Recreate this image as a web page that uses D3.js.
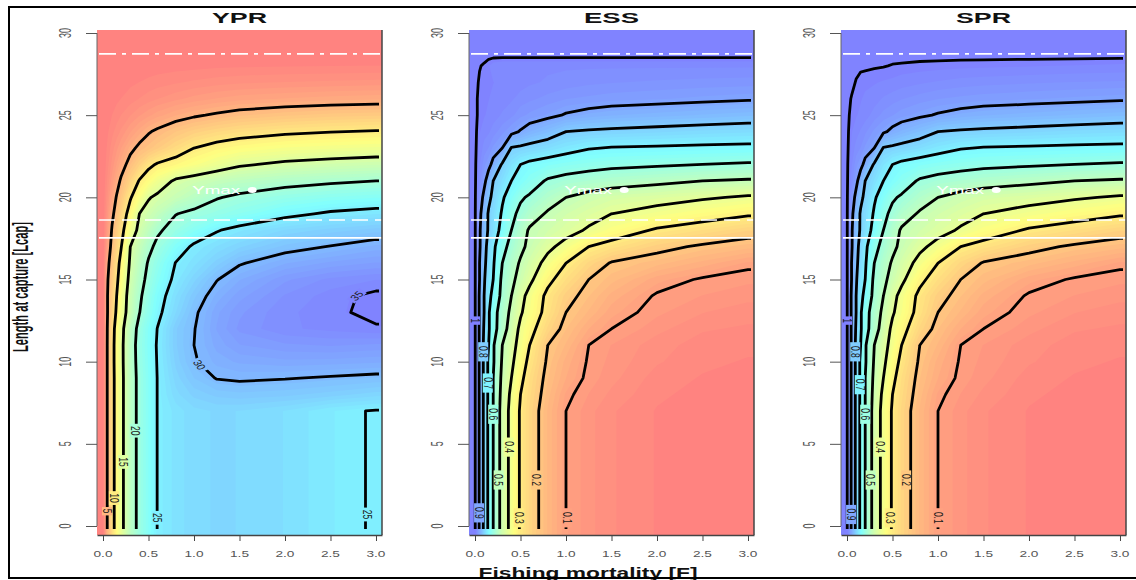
<!DOCTYPE html>
<html>
<head>
<meta charset="utf-8">
<script src="https://cdn.jsdelivr.net/npm/d3@7"></script>
<style>
  body { margin: 0; background: #fff; }
  svg { display: block; }
  text { font-family: Arial, "Liberation Sans", sans-serif; }
</style>
</head>
<body>
<svg id="chart" width="1136" height="580"></svg>
<script>
// grid: columns = fishing mortality, rows = length at capture
const fVals = [0, 0.05, 0.1, 0.15, 0.2, 0.3, 0.4, 0.5, 0.6, 0.8, 1.0, 1.25, 1.5, 2.0, 2.5, 3.0];
const lVals = [0, 7, 8, 9, 10, 11, 12, 13, 14, 15, 16, 17, 18, 19, 20, 21, 22, 23, 24, 25, 26, 27, 28, 28.6, 30];

const yprGrid = [
  [0, 5.4, 8.7, 11.5, 14, 18.1, 21, 23.1, 25.1, 26.3, 27, 27.3, 27.2, 26.6, 25.5, 24.85],
  [0, 5.4, 8.7, 11.5, 14, 18.1, 21, 23.1, 25.1, 26.3, 27, 27.3, 27.2, 26.6, 25.5, 24.85],
  [0, 5.4, 8.7, 11.5, 14, 18.1, 21, 23.1, 25.1, 27, 28, 28.6, 28.8, 28.6, 28.1, 27.5],
  [0, 5.4, 8.7, 11.5, 14, 18.1, 21, 23.1, 25.1, 27.5, 29, 30.1, 30.3, 30.1, 29.8, 29.5],
  [0, 5.4, 8.8, 11.6, 14.1, 18.2, 21.2, 23.2, 25.2, 28, 29.8, 31, 31.5, 31.8, 31.7, 31.5],
  [0, 5.4, 8.8, 11.6, 14.1, 18.3, 21.3, 23.3, 25.3, 28.3, 30, 31.6, 32.5, 33, 33.2, 33],
  [0, 5.3, 8.6, 11.4, 13.9, 18, 21, 23.2, 25.1, 28.3, 29.9, 32, 33.3, 34.2, 34.5, 34.8],
  [0, 5, 7.8, 10.5, 13, 16.8, 19.9, 22.2, 24.3, 27.2, 29.6, 31.8, 33, 34.2, 34.6, 35.5],
  [0, 5, 7.5, 10, 12.6, 16.6, 19.4, 21.7, 23.75, 26.6, 28.8, 31, 32.3, 33.8, 34.6, 35.3],
  [0, 4.8, 7.1, 9.3, 11.8, 16.05, 18.7, 20.9, 22.8, 25.7, 27.6, 29.9, 31.3, 33, 33.9, 34.3],
  [0, 4.2, 6.7, 8.75, 11, 15.5, 18, 20.3, 22, 25.1, 26.4, 28.1, 29.8, 31.3, 32.1, 32.6],
  [0, 3.3, 5.9, 7.9, 9.9, 15, 17.1, 19.2, 20.8, 23.4, 25.5, 26.7, 27.7, 29.2, 30.1, 31],
  [0, 2.7, 5.3, 7.1, 8.9, 12.9, 15.9, 17.7, 19.5, 21.3, 22.9, 24.8, 25.9, 27.3, 28.1, 28.7],
  [0, 2.2, 4.4, 6.2, 7.9, 11.4, 15, 16.2, 17.4, 19.9, 20.7, 21.6, 22.5, 24.3, 25.4, 26],
  [0, 1.8, 3.5, 5.2, 6.7, 9.7, 12.25, 14.75, 15.6, 16.9, 18.2, 19.8, 20.6, 21.7, 22.5, 23],
  [0, 1.35, 2.7, 4.05, 5.4, 7.8, 10.2, 11.7, 13.2, 15.5, 16.3, 17.2, 17.9, 18.9, 19.5, 20],
  [0, 1, 2, 3, 4, 5.9, 7.6, 9.3, 10.3, 11.2, 12.2, 13.5, 14.6, 15.6, 16.1, 16.5],
  [0, 0.75, 1.5, 2.2, 2.95, 4.4, 5.5, 6.2, 7, 8.5, 10, 11, 11.7, 12.5, 12.9, 13.2],
  [0, 0.5, 1, 1.45, 1.9, 2.9, 3.85, 4.8, 5.4, 6.5, 7.4, 8.2, 8.8, 9.5, 9.9, 10.2],
  [0, 0.3, 0.6, 0.9, 1.2, 1.75, 2.3, 2.8, 3.3, 4.1, 4.7, 5.3, 5.8, 6.4, 6.8, 7],
  [0, 0.15, 0.3, 0.45, 0.6, 0.9, 1.2, 1.5, 1.75, 2.2, 2.6, 3, 3.3, 3.6, 3.85, 4],
  [0, 0.08, 0.15, 0.22, 0.3, 0.45, 0.6, 0.75, 0.9, 1.1, 1.3, 1.5, 1.65, 1.8, 1.9, 2],
  [0, 0.02, 0.05, 0.07, 0.1, 0.14, 0.18, 0.22, 0.26, 0.32, 0.38, 0.45, 0.5, 0.55, 0.58, 0.6],
  [0, 0, 0, 0, 0, 0, 0, 0, 0, 0, 0, 0, 0, 0, 0, 0],
  [0, 0, 0, 0, 0, 0, 0, 0, 0, 0, 0, 0, 0, 0, 0, 0]
];

const essGrid = [
  [1, 0.89, 0.78, 0.68, 0.60, 0.46, 0.37, 0.29, 0.24, 0.16, 0.10, 0.07, 0.05, 0.03, 0.02, 0.015],
  [1, 0.89, 0.78, 0.68, 0.60, 0.46, 0.37, 0.29, 0.24, 0.16, 0.10, 0.07, 0.05, 0.03, 0.02, 0.015],
  [1, 0.89, 0.78, 0.68, 0.60, 0.47, 0.38, 0.30, 0.25, 0.17, 0.11, 0.08, 0.06, 0.035, 0.025, 0.02],
  [1, 0.89, 0.78, 0.68, 0.60, 0.48, 0.40, 0.32, 0.26, 0.18, 0.13, 0.09, 0.07, 0.04, 0.03, 0.025],
  [1, 0.89, 0.78, 0.68, 0.61, 0.49, 0.42, 0.34, 0.28, 0.19, 0.14, 0.095, 0.075, 0.05, 0.035, 0.03],
  [1, 0.89, 0.78, 0.70, 0.61, 0.50, 0.43, 0.37, 0.30, 0.20, 0.16, 0.10, 0.08, 0.055, 0.04, 0.035],
  [1, 0.89, 0.79, 0.71, 0.64, 0.54, 0.46, 0.38, 0.33, 0.24, 0.18, 0.13, 0.10, 0.07, 0.05, 0.045],
  [1, 0.89, 0.80, 0.71, 0.64, 0.55, 0.48, 0.41, 0.36, 0.27, 0.20, 0.16, 0.12, 0.085, 0.065, 0.055],
  [1, 0.89, 0.80, 0.72, 0.68, 0.57, 0.50, 0.43, 0.37, 0.28, 0.22, 0.18, 0.14, 0.095, 0.08, 0.07],
  [1, 0.90, 0.81, 0.74, 0.70, 0.58, 0.52, 0.47, 0.42, 0.32, 0.26, 0.20, 0.17, 0.12, 0.095, 0.085],
  [1, 0.90, 0.82, 0.76, 0.71, 0.60, 0.54, 0.49, 0.45, 0.37, 0.30, 0.24, 0.195, 0.17, 0.14, 0.11],
  [1, 0.91, 0.83, 0.77, 0.72, 0.63, 0.57, 0.52, 0.48, 0.42, 0.37, 0.30, 0.27, 0.22, 0.19, 0.17],
  [1, 0.91, 0.84, 0.79, 0.75, 0.67, 0.60, 0.54, 0.49, 0.46, 0.43, 0.39, 0.35, 0.29, 0.26, 0.23],
  [1, 0.92, 0.85, 0.79, 0.76, 0.69, 0.62, 0.58, 0.54, 0.49, 0.46, 0.43, 0.40, 0.37, 0.34, 0.31],
  [1, 0.94, 0.88, 0.82, 0.78, 0.71, 0.66, 0.61, 0.59, 0.54, 0.50, 0.47, 0.45, 0.43, 0.41, 0.39],
  [1, 0.96, 0.92, 0.86, 0.80, 0.75, 0.70, 0.67, 0.64, 0.59, 0.57, 0.555, 0.54, 0.52, 0.50, 0.49],
  [1, 0.97, 0.94, 0.92, 0.88, 0.79, 0.74, 0.70, 0.68, 0.66, 0.645, 0.63, 0.62, 0.61, 0.60, 0.59],
  [1, 0.98, 0.96, 0.95, 0.93, 0.90, 0.795, 0.785, 0.775, 0.755, 0.73, 0.705, 0.695, 0.69, 0.685, 0.68],
  [1, 0.985, 0.975, 0.97, 0.96, 0.94, 0.92, 0.895, 0.87, 0.84, 0.80, 0.79, 0.785, 0.775, 0.765, 0.758],
  [1, 0.99, 0.985, 0.98, 0.975, 0.965, 0.955, 0.94, 0.93, 0.915, 0.895, 0.88, 0.87, 0.86, 0.85, 0.84],
  [1, 0.99, 0.987, 0.984, 0.98, 0.975, 0.97, 0.96, 0.955, 0.945, 0.935, 0.93, 0.925, 0.92, 0.913, 0.907],
  [1, 0.993, 0.99, 0.987, 0.984, 0.98, 0.977, 0.975, 0.97, 0.965, 0.96, 0.955, 0.952, 0.948, 0.945, 0.943],
  [1, 0.996, 0.993, 0.985, 0.975, 0.97, 0.97, 0.97, 0.97, 0.97, 0.97, 0.97, 0.97, 0.97, 0.97, 0.97],
  [1, 1, 1, 1, 1, 1, 1, 1, 1, 1, 1, 1, 1, 1, 1, 1],
  [1, 1, 1, 1, 1, 1, 1, 1, 1, 1, 1, 1, 1, 1, 1, 1]
];

const sprGrid = [
  [1, 0.89, 0.78, 0.68, 0.60, 0.46, 0.37, 0.29, 0.24, 0.16, 0.10, 0.07, 0.05, 0.03, 0.02, 0.015],
  [1, 0.89, 0.78, 0.68, 0.60, 0.46, 0.37, 0.29, 0.24, 0.16, 0.10, 0.07, 0.05, 0.03, 0.02, 0.015],
  [1, 0.89, 0.78, 0.68, 0.60, 0.47, 0.38, 0.30, 0.25, 0.17, 0.11, 0.08, 0.06, 0.035, 0.025, 0.02],
  [1, 0.89, 0.78, 0.68, 0.60, 0.48, 0.40, 0.32, 0.26, 0.18, 0.13, 0.09, 0.07, 0.04, 0.03, 0.025],
  [1, 0.89, 0.78, 0.68, 0.61, 0.49, 0.42, 0.34, 0.28, 0.19, 0.14, 0.095, 0.075, 0.05, 0.035, 0.03],
  [1, 0.89, 0.78, 0.70, 0.61, 0.50, 0.43, 0.37, 0.30, 0.20, 0.16, 0.10, 0.08, 0.055, 0.04, 0.035],
  [1, 0.89, 0.79, 0.71, 0.64, 0.54, 0.46, 0.38, 0.33, 0.24, 0.18, 0.13, 0.10, 0.07, 0.05, 0.045],
  [1, 0.89, 0.80, 0.71, 0.64, 0.55, 0.48, 0.41, 0.36, 0.27, 0.20, 0.16, 0.12, 0.085, 0.065, 0.055],
  [1, 0.89, 0.80, 0.72, 0.68, 0.57, 0.50, 0.43, 0.37, 0.28, 0.22, 0.18, 0.14, 0.095, 0.08, 0.07],
  [1, 0.90, 0.81, 0.74, 0.70, 0.58, 0.52, 0.47, 0.42, 0.32, 0.26, 0.20, 0.17, 0.12, 0.095, 0.085],
  [1, 0.90, 0.82, 0.76, 0.71, 0.60, 0.54, 0.49, 0.45, 0.37, 0.30, 0.24, 0.195, 0.17, 0.14, 0.11],
  [1, 0.91, 0.83, 0.77, 0.72, 0.63, 0.57, 0.52, 0.48, 0.42, 0.37, 0.30, 0.27, 0.22, 0.19, 0.17],
  [1, 0.91, 0.84, 0.79, 0.75, 0.67, 0.60, 0.54, 0.49, 0.46, 0.43, 0.39, 0.35, 0.29, 0.26, 0.23],
  [1, 0.92, 0.85, 0.79, 0.76, 0.69, 0.62, 0.58, 0.54, 0.49, 0.46, 0.43, 0.40, 0.37, 0.34, 0.31],
  [1, 0.94, 0.88, 0.82, 0.78, 0.71, 0.66, 0.61, 0.59, 0.54, 0.50, 0.47, 0.45, 0.43, 0.41, 0.39],
  [1, 0.96, 0.92, 0.86, 0.80, 0.75, 0.70, 0.67, 0.64, 0.59, 0.57, 0.555, 0.54, 0.52, 0.50, 0.49],
  [1, 0.97, 0.94, 0.92, 0.88, 0.79, 0.74, 0.70, 0.68, 0.66, 0.645, 0.63, 0.62, 0.61, 0.60, 0.59],
  [1, 0.98, 0.96, 0.95, 0.93, 0.90, 0.795, 0.785, 0.775, 0.755, 0.73, 0.705, 0.695, 0.69, 0.685, 0.68],
  [1, 0.985, 0.975, 0.965, 0.955, 0.93, 0.91, 0.885, 0.865, 0.835, 0.80, 0.79, 0.785, 0.775, 0.765, 0.758],
  [1, 0.99, 0.985, 0.98, 0.975, 0.96, 0.945, 0.935, 0.925, 0.91, 0.895, 0.88, 0.87, 0.86, 0.85, 0.84],
  [1, 0.994, 0.99, 0.985, 0.98, 0.975, 0.965, 0.958, 0.952, 0.943, 0.935, 0.93, 0.925, 0.92, 0.914, 0.908],
  [1, 0.999, 0.994, 0.99, 0.988, 0.985, 0.982, 0.98, 0.975, 0.97, 0.965, 0.96, 0.957, 0.953, 0.95, 0.948],
  [1, 1, 0.999, 0.998, 0.998, 0.997, 0.996, 0.994, 0.993, 0.991, 0.99, 0.988, 0.987, 0.985, 0.9825, 0.98],
  [1, 1, 1, 1, 1, 1, 1, 1, 1, 1, 1, 1, 1, 1, 1, 1],
  [1, 1, 1, 1, 1, 1, 1, 1, 1, 1, 1, 1, 1, 1, 1, 1]
];

const yprLevels = [5, 10, 15, 20, 25, 30, 35];
// the top ratio contour is traced just under 1, where the ratio saturates
const ratioLevels = [0.1, 0.2, 0.3, 0.4, 0.5, 0.6, 0.7, 0.8, 0.9, 0.995];

// contour labels: [F, Lcap, text, angle]
const yprLabels = [[0.044, 0.9, "5", 90], [0.12, 1.7, "10", 90], [0.22, 3.9, "15", 90], [0.35, 5.8, "20", 90],
  [0.59, 0.5, "25", 90], [2.9, 0.7, "25", 90], [1.06, 9.8, "30", 60], [2.79, 14.0, "35", -50]];
const essLabels = [[1.01, 0.5, "0.1", 90], [0.67, 2.8, "0.2", 90], [0.48, 0.5, "0.3", 90], [0.37, 4.8, "0.4", 90],
  [0.26, 2.8, "0.5", 90], [0.2, 6.8, "0.6", 90], [0.14, 8.7, "0.7", 90], [0.09, 10.6, "0.8", 90],
  [0.045, 0.8, "0.9", 90], [0, 12.5, "1", 90]];
const sprLabels = [[1.0, 0.5, "0.1", 90], [0.65, 2.8, "0.2", 90], [0.47, 0.5, "0.3", 90], [0.36, 4.8, "0.4", 90],
  [0.26, 2.8, "0.5", 90], [0.2, 6.8, "0.6", 90], [0.14, 8.6, "0.7", 90], [0.09, 10.6, "0.8", 90],
  [0.045, 0.7, "0.9", 90], [0, 12.5, "1", 90]];

const fTicks = [0, 0.5, 1, 1.5, 2, 2.5, 3];
const lTicks = [0, 5, 10, 15, 20, 25, 30];
const refLengths = [28.73, 18.62, 17.53];   // white reference lines
const ymaxSpot = [0.98, 20.2, 1.64, 20.45]; // text start, marker

const svg = d3.select("#chart");
const W = 285, TOP = 30, BOT = 535;
const ys = d3.scaleLinear().domain([0, 30]).range([526, 33]);

const panels = [
  {title: "YPR", left: 97, grid: yprGrid, levels: yprLevels, labels: yprLabels},
  {title: "ESS", left: 469, grid: essGrid, levels: ratioLevels, labels: essLabels},
  {title: "SPR", left: 841, grid: sprGrid, levels: ratioLevels, labels: sprLabels}
];

// where d3.contours places sample i (i + off)
function sampleOffset() {
  const px = d3.contours().size([2, 1]).thresholds([0.5])([0, 1])[0].coordinates.flat(2);
  const a = px.find(p => p[1] > 0 && p[1] < 1 && p[0] > 0 && p[0] < 2);
  const py = d3.contours().size([1, 2]).thresholds([0.5])([0, 1])[0].coordinates.flat(2);
  const b = py.find(p => p[0] > 0 && p[0] < 1 && p[1] > 0 && p[1] < 2);
  return [a ? a[0] - 0.5 : 0, b ? b[1] - 0.5 : 0];
}
const [offX, offY] = sampleOffset();

// repeat the edge rows/cols so the fill reaches the frame and border rings fall outside the clip
function padGrid(grid) {
  const rows = grid.map(r => [r[0], ...r, r[r.length - 1]]);
  return [rows[0], ...rows, rows[rows.length - 1]];
}

const defs = svg.append("defs");

panels.forEach((p, pi) => {
  const xs = d3.scaleLinear().domain([-0.066, 3.066]).range([p.left, p.left + W]);
  const nx = fVals.length + 2, ny = lVals.length + 2;
  const values = padGrid(p.grid).flat();
  const fIdx = d3.scaleLinear().domain(d3.range(nx).map(i => i + offX)).range([-0.3, ...fVals, 3.3]);
  const lIdx = d3.scaleLinear().domain(d3.range(ny).map(i => i + offY)).range([-1.5, ...lVals, 31.5]);
  const path = d3.geoPath(d3.geoTransform({
    point(x, y) { this.stream.point(xs(fIdx(x)), ys(lIdx(y))); }
  }));

  const ext = d3.extent(values);
  const span = ext[1] - ext[0];
  const col = d3.scaleLinear()
    .domain([ext[0], ext[0] + span / 3, ext[0] + 2 * span / 3, ext[1]])
    .range(["#ff8080", "#ffff80", "#80ffff", "#8080ff"]);

  defs.append("clipPath").attr("id", "hm" + pi)
    .append("rect").attr("x", p.left).attr("y", TOP).attr("width", W).attr("height", BOT - TOP);
  defs.append("clipPath").attr("id", "ln" + pi)
    .append("rect").attr("x", xs(0) - 3).attr("y", ys(30) - 3)
    .attr("width", xs(3) - xs(0) + 6).attr("height", ys(0) - ys(30) + 6);

  const g = svg.append("g");

  // heatmap as many thin filled bands
  const nb = 60, step = span / nb;
  const th = d3.range(nb).map(i => ext[0] + step * i);
  const hm = g.append("g").attr("clip-path", `url(#hm${pi})`);
  hm.append("rect").attr("x", p.left).attr("y", TOP).attr("width", W).attr("height", BOT - TOP)
    .attr("fill", col(ext[0]));
  hm.selectAll("path")
    .data(d3.contours().size([nx, ny]).thresholds(th)(values))
    .join("path")
    .attr("d", path)
    .attr("fill", (d, k) => col(th[k] + step / 2));

  // contour lines
  const lines = d3.contours().size([nx, ny]).thresholds(p.levels.map(v => v - 1e-6))(values);
  g.append("g").attr("clip-path", `url(#ln${pi})`)
    .selectAll("path").data(lines).join("path")
    .attr("d", path)
    .attr("fill", "none")
    .attr("stroke", "#000")
    .attr("stroke-width", 2.8)
    .attr("stroke-linejoin", "round");

  // contour labels
  const lab = g.append("g").selectAll("g").data(p.labels).join("g")
    .attr("transform", d => `translate(${xs(d[0])},${ys(d[1])}) scale(1.4,1) rotate(${d[3]})`);
  lab.append("rect")
    .attr("x", d => -d[2].length * 2.7 - 1.5).attr("y", -3.6)
    .attr("width", d => d[2].length * 5.4 + 3).attr("height", 7.2)
    .attr("fill", d => col(+d[2]));
  lab.append("text")
    .attr("text-anchor", "middle").attr("dy", "0.35em")
    .attr("font-size", 8.5).attr("fill", "#1a1a1a")
    .text(d => d[2]);

  // white reference lines
  const dashes = ["17,6,4,6", "16,7", null];
  g.selectAll("line.ref").data(refLengths).join("line")
    .attr("class", "ref")
    .attr("x1", p.left + 2).attr("x2", p.left + W + 5)
    .attr("y1", d => ys(d)).attr("y2", d => ys(d))
    .attr("stroke", "#fff").attr("stroke-width", 1.6)
    .attr("stroke-dasharray", (d, i) => dashes[i]);

  g.append("text")
    .attr("x", xs(ymaxSpot[0])).attr("y", ys(ymaxSpot[1]))
    .attr("font-size", 11).attr("fill", "#fff")
    .attr("textLength", 48).attr("lengthAdjust", "spacingAndGlyphs")
    .text("Ymax");
  g.append("ellipse")
    .attr("cx", xs(ymaxSpot[2])).attr("cy", ys(ymaxSpot[3]))
    .attr("rx", 4.5).attr("ry", 3).attr("fill", "#fff");

  // frame lines on right and left
  g.append("line").attr("x1", p.left + W).attr("x2", p.left + W).attr("y1", TOP).attr("y2", BOT)
    .attr("stroke", "#444").attr("stroke-width", 1.5);
  g.append("line").attr("x1", p.left).attr("x2", p.left).attr("y1", ys(30)).attr("y2", ys(0))
    .attr("stroke", "#666").attr("stroke-width", 1);

  // x axis
  const xa = g.append("g").attr("transform", `translate(0,${BOT})`)
    .call(d3.axisBottom(xs).tickValues(fTicks).tickSize(6).tickSizeOuter(0).tickFormat(""));
  xa.select(".domain").attr("stroke", "#444").attr("stroke-width", 1.5);
  xa.selectAll(".tick line").attr("stroke", "#444");
  g.selectAll("text.xt").data(fTicks).join("text")
    .attr("class", "xt")
    .attr("x", d => xs(d)).attr("y", 556.5)
    .attr("text-anchor", "middle").attr("font-size", 9.5).attr("fill", "#555")
    .attr("textLength", 19).attr("lengthAdjust", "spacingAndGlyphs")
    .text(d => d3.format(".1f")(d));

  // y axis ticks
  const ya = g.append("g").attr("transform", `translate(${p.left},0)`)
    .call(d3.axisLeft(ys).tickValues(lTicks).tickSize(11).tickSizeOuter(0).tickFormat(""));
  ya.select(".domain").remove();
  ya.selectAll(".tick line").attr("stroke", "#555");
  g.selectAll("text.yt").data(lTicks).join("text")
    .attr("class", "yt")
    .attr("transform", d => `translate(${p.left - 26},${ys(d)}) scale(1.8,1) rotate(-90)`)
    .attr("text-anchor", "middle").attr("font-size", 9).attr("fill", "#555")
    .text(d => d);

  // panel title
  g.append("text")
    .attr("x", p.left + W / 2).attr("y", 23)
    .attr("text-anchor", "middle").attr("font-size", 15).attr("font-weight", "bold").attr("fill", "#111")
    .attr("textLength", 55).attr("lengthAdjust", "spacingAndGlyphs")
    .text(p.title);
});

svg.append("text")
  .attr("transform", "translate(28,287) scale(1.5,1) rotate(-90)")
  .attr("text-anchor", "middle").attr("font-size", 15).attr("font-weight", "bold").attr("fill", "#111")
  .attr("textLength", 130).attr("lengthAdjust", "spacingAndGlyphs")
  .text("Length at capture [Lcap]");

svg.append("text")
  .attr("x", 588).attr("y", 578)
  .attr("text-anchor", "middle").attr("font-size", 15).attr("font-weight", "bold").attr("fill", "#111")
  .attr("textLength", 219).attr("lengthAdjust", "spacingAndGlyphs")
  .text("Fishing mortality [F]");

svg.append("rect")
  .attr("x", 9).attr("y", 7).attr("width", 1140).attr("height", 571)
  .attr("fill", "none").attr("stroke", "#000").attr("stroke-width", 2);
</script>
</body>
</html>
